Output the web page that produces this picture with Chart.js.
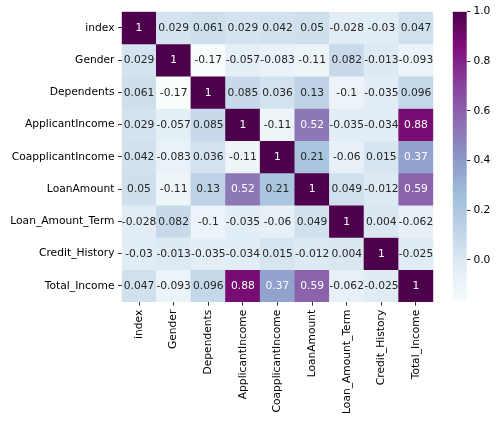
<!DOCTYPE html>
<html>
<head>
<meta charset="utf-8">
<script src="https://cdn.jsdelivr.net/npm/chart.js@4/dist/chart.umd.min.js"></script>
<style>
  html, body { margin: 0; padding: 0; background: #fff; }
  #wrap { position: relative; width: 500px; height: 424px; }
  #heatBox { position: absolute; left: 0; top: 0; width: 440px; height: 424px; }
  #barBox { position: absolute; left: 440px; top: 0; width: 60px; height: 424px; }
</style>
</head>
<body>
<div id="wrap">
  <div id="heatBox"><canvas id="heatChart"></canvas></div>
  <div id="barBox"><canvas id="cbarChart"></canvas></div>
</div>
<script>
const labels = ['index', 'Gender', 'Dependents', 'ApplicantIncome', 'CoapplicantIncome',
    'LoanAmount', 'Loan_Amount_Term', 'Credit_History', 'Total_Income'];

const rowIndex      = [1, 0.029, 0.061, 0.029, 0.042, 0.05, -0.028, -0.03, 0.047];
const rowGender     = [0.029, 1, -0.17, -0.057, -0.083, -0.11, 0.082, -0.013, -0.093];
const rowDependents = [0.061, -0.17, 1, 0.085, 0.036, 0.13, -0.1, -0.035, 0.096];
const rowApplicant  = [0.029, -0.057, 0.085, 1, -0.11, 0.52, -0.035, -0.034, 0.88];
const rowCoapplicant= [0.042, -0.083, 0.036, -0.11, 1, 0.21, -0.06, 0.015, 0.37];
const rowLoanAmount = [0.05, -0.11, 0.13, 0.52, 0.21, 1, 0.049, -0.012, 0.59];
const rowLoanTerm   = [-0.028, 0.082, -0.1, -0.035, -0.06, 0.049, 1, 0.004, -0.062];
const rowCredit     = [-0.03, -0.013, -0.035, -0.034, 0.015, -0.012, 0.004, 1, -0.025];
const rowTotal      = [0.047, -0.093, 0.096, 0.88, 0.37, 0.59, -0.062, -0.025, 1];

const corrRows = [rowIndex, rowGender, rowDependents, rowApplicant, rowCoapplicant,
    rowLoanAmount, rowLoanTerm, rowCredit, rowTotal];

const colorbarTicks = [0, 0.2, 0.4, 0.6, 0.8, 1.0];
const vmin = -0.17;
const vmax = 1;

// matplotlib BuPu
const bupu = [
    [247, 252, 253], [224, 236, 244], [191, 211, 230], [158, 188, 218],
    [140, 150, 198], [140, 107, 177], [136, 65, 157], [129, 15, 124], [77, 0, 75]
];

function cmapRgb(v) {
    let t = (v - vmin) / (vmax - vmin);
    t = Math.max(0, Math.min(1, t));
    const pos = t * (bupu.length - 1);
    const i = Math.min(Math.floor(pos), bupu.length - 2);
    const f = pos - i;
    return bupu[i].map((c, k) => c + (bupu[i + 1][k] - c) * f);
}
function cmap(v) {
    const c = cmapRgb(v);
    return `rgb(${c[0].toFixed(0)}, ${c[1].toFixed(0)}, ${c[2].toFixed(0)})`;
}
function luminance(rgb) {
    const lin = rgb.map(c => {
        c = c / 255;
        return c <= 0.03928 ? c / 12.92 : Math.pow((c + 0.055) / 1.055, 2.4);
    });
    return 0.2126 * lin[0] + 0.7152 * lin[1] + 0.0722 * lin[2];
}
function fmt(v) {
    return parseFloat(v.toPrecision(2)).toString();
}

const FONT = { family: 'DejaVu Sans', size: 10.7 };
const TICK = 3.7;

const annotate = {
    id: 'annotate',
    afterDatasetsDraw(chart) {
        const ctx = chart.ctx;
        const xs = chart.scales.x, ys = chart.scales.y;
        ctx.save();
        ctx.font = '10.7px "DejaVu Sans"';
        ctx.textAlign = 'center';
        ctx.textBaseline = 'middle';
        corrRows.forEach((row, r) => {
            row.forEach((v, c) => {
                ctx.fillStyle = luminance(cmapRgb(v)) > 0.408 ? '#262626' : '#ffffff';
                ctx.fillText(fmt(v), xs.getPixelForValue(c), ys.getPixelForValue(r + 0.5) + 0.5);
            });
        });
        ctx.restore();
    }
};

function initHeatmap() {
    const ctx = document.getElementById('heatChart').getContext('2d');
    new Chart(ctx, {
        type: 'bar',
        data: {
            labels: labels,
            datasets: corrRows.map((row, r) => ({
                label: labels[r],
                data: row.map(() => [r, r + 1]),
                backgroundColor: row.map(v => cmap(v)),
                borderWidth: 0,
                barPercentage: 1,
                categoryPercentage: 1,
                grouped: false
            }))
        },
        options: {
            responsive: true,
            maintainAspectRatio: false,
            animation: false,
            layout: { padding: { top: 11.7, right: 6.7, left: 0, bottom: 0 } },
            plugins: { legend: { display: false }, tooltip: { enabled: false } },
            scales: {
                x: {
                    grid: { display: true, drawOnChartArea: false, offset: false,
                        tickLength: TICK, tickWidth: 0.8, tickColor: '#000' },
                    border: { display: false },
                    ticks: { color: '#000', font: FONT, autoSkip: false,
                        minRotation: 90, maxRotation: 90, padding: 4 },
                    afterFit: s => { s.height = 122; }
                },
                y: {
                    type: 'linear',
                    min: 0, max: 9, reverse: true,
                    grid: { display: true, drawOnChartArea: false,
                        tickLength: TICK, tickWidth: 0.8, tickColor: '#000' },
                    border: { display: false },
                    afterBuildTicks: s => { s.ticks = labels.map((_, i) => ({ value: i + 0.5 })); },
                    ticks: { color: '#000', font: FONT, padding: 3.5, autoSkip: false,
                        callback: v => labels[Math.floor(v)] },
                    afterFit: s => { s.width = 121.7; }
                }
            }
        },
        plugins: [annotate]
    });
}

function initColorbar() {
    const ctx = document.getElementById('cbarChart').getContext('2d');
    new Chart(ctx, {
        type: 'bar',
        data: {
            labels: [''],
            datasets: [{
                data: [[vmin, vmax]],
                borderWidth: 0,
                barPercentage: 1,
                categoryPercentage: 1,
                backgroundColor: c => {
                    const area = c.chart.chartArea;
                    if (!area) return '#ccc';
                    const g = c.chart.ctx.createLinearGradient(0, area.bottom, 0, area.top);
                    bupu.forEach((rgb, i) => g.addColorStop(i / (bupu.length - 1), `rgb(${rgb.join(',')})`));
                    return g;
                }
            }]
        },
        options: {
            responsive: true,
            maintainAspectRatio: false,
            animation: false,
            layout: { padding: { top: 11.7, left: 12.7, right: 0, bottom: 122 } },
            plugins: { legend: { display: false }, tooltip: { enabled: false } },
            scales: {
                x: { display: false },
                y: {
                    position: 'right',
                    min: vmin, max: vmax,
                    grid: { display: true, drawOnChartArea: false,
                        tickLength: TICK, tickWidth: 0.8, tickColor: '#000' },
                    border: { display: false },
                    afterBuildTicks: s => { s.ticks = colorbarTicks.map(v => ({ value: v })); },
                    ticks: { color: '#000', font: FONT, padding: 3,
                        callback: v => v.toFixed(1) },
                    afterFit: s => { s.width = 33.3; }
                }
            }
        }
    });
}

document.addEventListener('DOMContentLoaded', () => {
    initHeatmap();
    initColorbar();
});
</script>
</body>
</html>
